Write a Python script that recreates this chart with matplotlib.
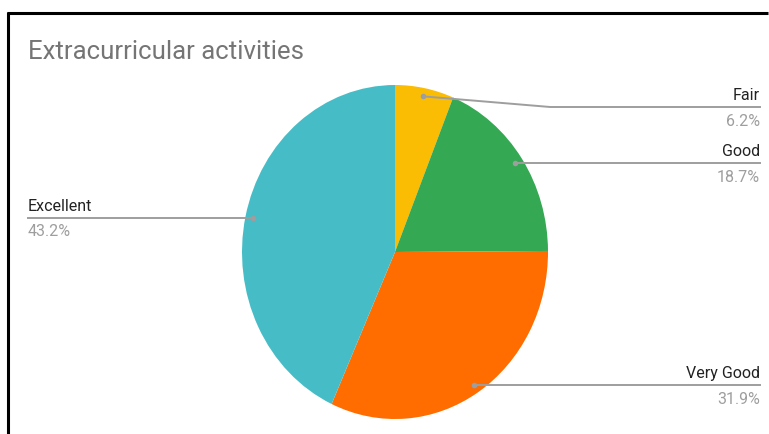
import numpy as np
import matplotlib
matplotlib.use("Agg")
import matplotlib.pyplot as plt

categories = ["Fair", "Good", "Very Good", "Excellent"]
shares = [6.2, 18.7, 31.9, 43.2]
colors = ["#fbbc04", "#34a853", "#ff6d01", "#46bdc6"]

plt.rcParams["font.family"] = ["Roboto", "DejaVu Sans"]

W, H = 769, 434
fig = plt.figure(figsize=(W / 100, H / 100), dpi=100)

# pie geometry in pixels (the original is slightly stretched vertically)
cx, cy, rx, ry = 395, 252, 153, 167
pie_ax = fig.add_axes([(cx - rx) / W, (H - cy - ry) / H, 2 * rx / W, 2 * ry / H])
pie_ax.pie(shares, colors=colors, startangle=90, counterclock=False,
           radius=1, wedgeprops=dict(linewidth=0))
pie_ax.set_xlim(-1, 1)
pie_ax.set_ylim(-1, 1)
pie_ax.set_aspect("auto")
pie_ax.axis("off")

# overlay in pixel coordinates
ov = fig.add_axes([0, 0, 1, 1], zorder=5)
ov.set_xlim(0, W)
ov.set_ylim(H, 0)
ov.axis("off")
ov.patch.set_alpha(0)

# border (top and left)
ov.plot([7, 768], [12.5, 12.5], color="black", lw=2.2, solid_capstyle="butt")
ov.plot([7.5, 7.5], [11.5, 434], color="black", lw=2.2, solid_capstyle="butt")

ov.text(28, 52, "Extracurricular activities", fontsize=18.5, color="#757575",
        va="center", ha="left")

# label layout: line y, side
label_y = {"Fair": 107, "Good": 163, "Very Good": 385, "Excellent": 218}
cum = np.cumsum([0] + shares[:-1])
line_col = "#9e9e9e"
for name, start, share in zip(categories, cum, shares):
    theta = np.deg2rad((start + share / 2) / 100 * 360)
    dx = cx + 0.95 * rx * np.sin(theta)
    dy = cy - 0.95 * ry * np.cos(theta)
    ly = label_y[name]
    ov.plot([dx], [dy], "o", color=line_col, ms=4, mec="none")
    if dx > cx:
        xs = [dx, dx + 127, 760] if abs(ly - dy) > 2 else [dx, 760]
        ys = [dy, ly, ly] if abs(ly - dy) > 2 else [ly, ly]
        ov.plot(xs, ys, color=line_col, lw=1.4)
        tx, ha = 760, "right"
    else:
        ov.plot([28, dx], [ly, ly], color=line_col, lw=1.4)
        tx, ha = 28, "left"
    ov.text(tx, ly - 11.5, name, fontsize=11.5, color="#222222", ha=ha, va="center")
    ov.text(tx, ly + 14, f"{share}%", fontsize=11.5, color="#9e9e9e", ha=ha, va="center")

fig.savefig("out.png", dpi=100, facecolor="white")
